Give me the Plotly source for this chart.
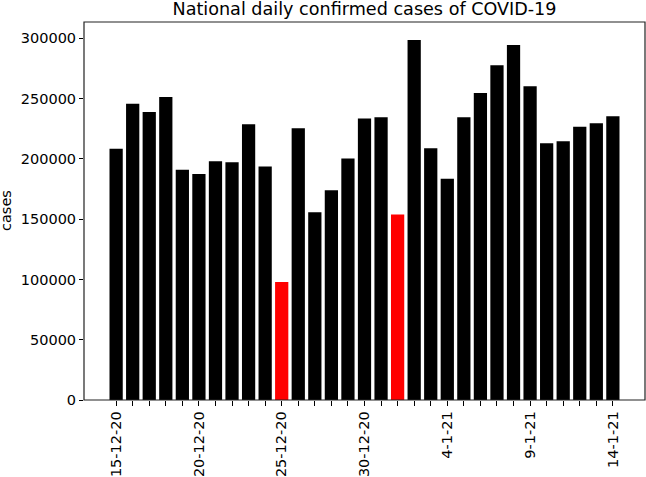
import plotly.graph_objects as go

dates = ["15-12-20", "16-12-20", "17-12-20", "18-12-20", "19-12-20", "20-12-20",
         "21-12-20", "22-12-20", "23-12-20", "24-12-20", "25-12-20", "26-12-20",
         "27-12-20", "28-12-20", "29-12-20", "30-12-20", "31-12-20", "1-1-21",
         "2-1-21", "3-1-21", "4-1-21", "5-1-21", "6-1-21", "7-1-21", "8-1-21",
         "9-1-21", "10-1-21", "11-1-21", "12-1-21", "13-1-21", "14-1-21"]
cases = [208300, 245800, 238900, 251300, 190900, 187500, 198100, 197200, 228700,
         193600, 97800, 225400, 155800, 174000, 200200, 233400, 234500, 153800,
         298600, 208800, 183600, 234500, 254700, 277600, 294400, 260200, 213000,
         214600, 226700, 229500, 235300]
highlight_dates = ["25-12-20", "1-1-21"]
labelled_dates = ["15-12-20", "20-12-20", "25-12-20", "30-12-20", "4-1-21", "9-1-21", "14-1-21"]
y_ticks = [0, 50000, 100000, 150000, 200000, 250000, 300000]

colors = ["red" if d in highlight_dates else "black" for d in dates]
ticktext = [d if d in labelled_dates else "" for d in dates]

fig = go.Figure(go.Bar(x=dates, y=cases, marker=dict(color=colors, line=dict(width=0))))

font = "DejaVu Sans"
fig.update_layout(
    width=646, height=477,
    margin=dict(l=84, r=1, t=22, b=77, autoexpand=False),
    plot_bgcolor="white", paper_bgcolor="white",
    bargap=0.2,
    showlegend=False,
    font=dict(family=font, size=14.5, color="black"),
    title=dict(text="National daily confirmed cases of COVID-19", x=(84 + 645) / 2 / 646,
               xanchor="center", y=1 - 8.5 / 477, yanchor="middle", yref="container",
               font=dict(family=font, size=17.6, color="black")),
    annotations=[dict(text="cases", xref="paper", yref="paper", x=(6 - 84) / 561, y=0.5,
                      xanchor="center", yanchor="middle", textangle=-90, showarrow=False,
                      font=dict(family=font, size=14.5, color="black"))],
    shapes=[dict(type="rect", xref="paper", yref="paper", x0=0, y0=0, x1=1, y1=1,
                 line=dict(color="#222222", width=1.2), fillcolor="rgba(0,0,0,0)", layer="above")],
)
fig.update_xaxes(
    type="category", range=[-1.94, 31.94], automargin=False,
    tickmode="array", tickvals=dates, ticktext=ticktext, tickangle=-90,
    ticks="outside", ticklen=4.5, tickwidth=1, tickcolor="black",
    showline=False, showgrid=False, zeroline=False,
)
fig.update_yaxes(
    range=[0, 313500], tickmode="array", tickvals=y_ticks, tickformat="d", automargin=False,
    ticks="outside", ticklen=4, tickwidth=1, tickcolor="black",
    showline=False, showgrid=False, zeroline=False,
)
fig.write_html("out.html", config={"displayModeBar": False},
               post_script="document.body.style.margin='0';document.body.style.overflow='hidden';")
